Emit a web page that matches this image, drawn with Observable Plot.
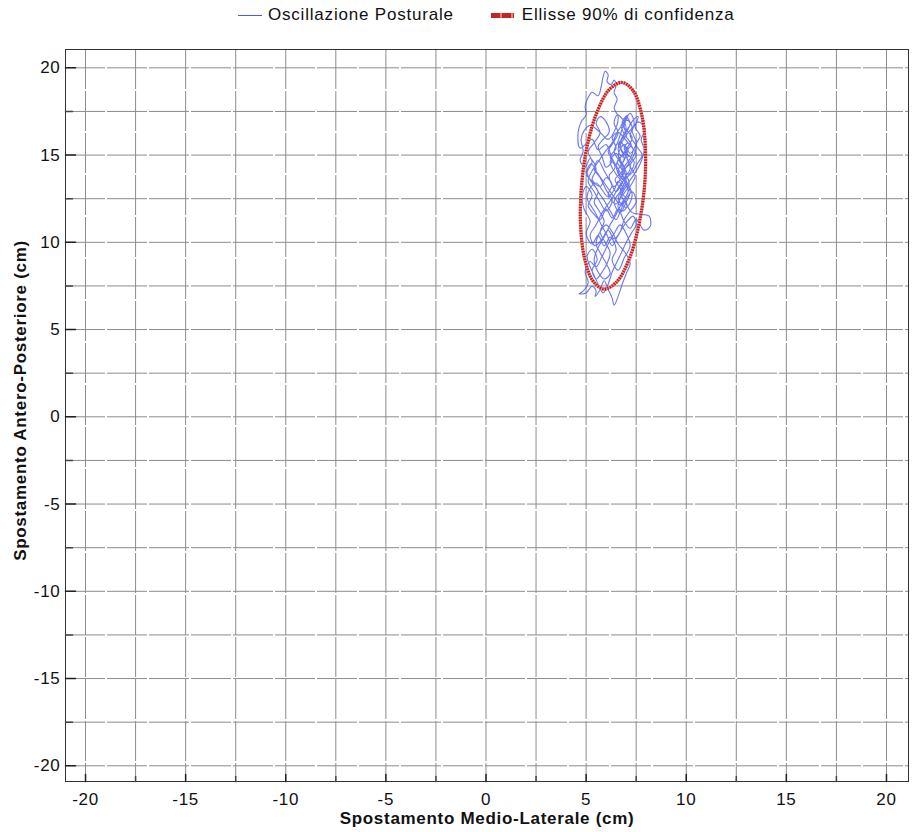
<!DOCTYPE html>
<html><head><meta charset="utf-8">
<script src="https://cdn.jsdelivr.net/npm/d3@7"></script>
<script src="https://cdn.jsdelivr.net/npm/@observablehq/plot@0.6"></script>
<style>
body{margin:0;background:#fff;font-family:"Liberation Sans",Arial,sans-serif;}
#legend{height:30px;display:flex;align-items:center;padding-left:238px;font-size:17px;letter-spacing:0.8px;color:#111;box-sizing:border-box;}
.item{display:flex;align-items:center;}
.sw1{width:24px;height:0;border-top:1px solid #4a5ae8;margin-right:6px;}
.sw2{width:23px;height:5px;background:repeating-linear-gradient(90deg,#c42424 0 9px,#e08080 9px 11px);margin-right:8px;margin-left:37px;}
</style></head><body>
<div id="legend"><span class="item"><span class="sw1"></span>Oscillazione Posturale</span><span class="item"><span class="sw2"></span>Ellisse 90% di confidenza</span></div>
<div id="chart"></div>
<script>
// Sway path (cm)
const swayX = [6.6,6.9,6.7,7.0,6.8,7.1,6.9,7.3,7.0,7.4,7.1,6.8,6.5,6.2,6.5,6.9,6.6,7.0,7.3,7.0,6.7,
 6.3,6.0,5.6,5.3,4.7,4.6,4.75,5.0,4.95,5.1,5.3,5.6,5.75,5.85,5.95,6.1,6.05,6.25,6.4,6.5,6.4,6.55,6.4,6.6,6.5,
 6.1,5.7,5.2,4.9,4.75,4.85,4.7,4.95,5.2,5.5,5.3,5.7,6.0,6.3,6.1,6.5,6.8,7.1,7.4,7.7,7.9,7.75,7.95,7.6,7.3,7.5,7.2,6.9,6.6,6.8,
 7.0,6.7,7.0,7.3,7.8,8.15,8.2,7.9,7.5,7.2,6.9,6.6,6.3,6.0,5.7,5.4,5.1,5.3,5.0,4.8,4.9,5.2,5.0,5.3,5.6,5.9,6.2,6.5,6.3,6.6,6.9,7.2,7.0,6.7,
 6.4,6.1,5.8,5.5,5.2,4.95,5.1,4.85,4.65,5.0,5.3,5.5,5.45,5.7,5.9,6.1,6.3,6.4,6.6,6.8,7.0,7.2,6.95,6.6,6.3,6.0,5.7,5.5,5.7,6.0,6.2,5.9,5.6,
 5.4,5.6,5.9,6.2,6.5,6.8,7.1,6.9,7.2,7.0,6.7,6.9,7.2,7.0,6.8,6.6,6.4,6.7,7.0,6.8,6.5,6.2,5.9,5.6,5.4,5.7,6.0,6.3,6.0,5.7,5.4,5.1,5.3,5.6,5.95,6.3,6.6,6.9,7.2,7.4,7.2,7.5,7.3,7.0,6.75,6.5,6.8,7.1,6.9,6.6,6.9,7.2,7.0,6.7,6.4,6.7,
 7.0,6.8,7.15,6.95,7.25,7.0,7.3,7.05,6.75,6.9,6.6,6.85,6.55,6.8,6.45,6.7,6.95,7.2,7.45,7.2,7.5,7.25,6.95,6.6,6.3,6.5,6.2,6.45,6.15,6.4,6.7,6.95,6.7,7.0,6.75,7.05,7.35,7.6,7.45,7.7,7.5,7.8,7.55,7.3,7.0,6.7,
 6.4,6.1,5.8,5.5,5.2,5.45,5.8,6.1,6.4,6.7,6.9,7.2,7.5,7.3,7.0,6.75,6.5,6.2,5.9,5.6,5.3,5.0,5.25,5.55,5.85,6.15,6.45,6.75,
 6.9,7.05,6.85,6.6,6.7,6.95,7.15,7.0,6.8,6.9,7.2,7.35,7.1,6.9,7.1,6.8,6.6,6.75,7.0,6.85,6.55,6.4,6.6,6.35,6.1,6.3,6.0,5.8,5.6,5.85,6.15,6.0,5.7,5.5,5.7,5.4,5.1,5.3,5.05,5.3,5.6,5.4,5.65,5.9,5.7,5.95,6.2,6.05,5.8,5.5,5.3,5.55,5.3,5.05,5.2,5.4,5.6,5.85,6.1,6.3,6.55,6.8,7.05,7.3,7.5,7.35,7.05,6.8,6.55,6.3,6.05,5.8,5.55,5.3,5.05,5.2,5.5,5.8,6.1,6.4,6.6,6.85];
const swayY = [14.2,14.8,15.5,16.2,16.9,17.3,16.6,16.0,15.2,14.6,13.9,14.5,15.1,14.6,13.9,13.2,12.5,12.0,12.7,13.5,14.0,
 14.8,15.6,15.3,15.9,15.4,16.3,16.9,17.3,17.8,18.3,18.6,18.4,18.9,19.5,19.8,19.6,19.2,19.05,19.3,19.0,18.6,18.2,17.7,17.2,16.6,
 15.9,16.3,16.7,16.4,15.9,15.2,14.7,14.3,14.8,14.2,13.6,13.2,13.7,13.3,12.7,12.2,12.8,13.4,13.9,14.5,15.3,15.9,16.5,16.9,16.4,15.7,15.1,15.6,15.0,14.3,
 13.6,12.9,12.2,11.7,11.6,11.5,10.9,10.7,11.3,10.8,11.2,11.9,11.4,11.9,11.3,11.6,12.1,12.7,13.2,12.6,11.9,11.2,10.5,9.9,10.4,9.8,10.3,9.6,9.0,8.4,9.1,9.8,10.5,11.0,
 10.5,9.9,9.2,8.6,8.9,8.3,7.7,7.2,7.05,7.1,7.5,7.2,6.9,7.3,7.8,7.3,6.8,6.4,6.9,7.6,8.2,8.8,9.4,9.9,10.6,11.0,10.6,9.9,9.4,8.8,8.2,7.9,8.3,
 9.0,9.7,10.3,11.0,11.6,12.3,12.9,13.6,14.2,14.9,15.5,16.2,16.8,17.2,16.5,15.8,15.2,14.6,14.0,13.4,12.9,13.5,14.1,14.7,14.2,13.7,13.0,12.4,11.8,12.3,12.9,13.5,14.1,14.6,15.2,15.7,16.4,16.9,17.4,16.8,16.1,15.5,14.8,14.3,13.7,14.4,15.0,15.4,14.7,14.1,13.5,12.9,12.3,11.7,12.3,12.9,
 13.4,14.0,14.5,15.1,15.6,16.1,16.6,17.0,16.7,16.1,15.6,15.1,14.6,14.1,13.6,13.1,12.6,13.2,13.8,14.4,15.0,15.5,15.9,16.3,16.0,15.4,14.9,14.3,13.8,13.2,13.6,14.2,14.8,15.3,15.8,16.4,17.0,17.2,16.6,16.1,15.6,15.0,14.5,14.0,13.7,13.3,
 12.7,12.2,11.7,11.0,10.4,9.8,10.2,10.7,10.2,10.6,11.3,11.8,12.3,12.9,12.5,11.9,11.3,11.8,12.4,12.9,13.5,13.9,14.5,14.0,13.5,13.0,12.5,12.1,
 12.4,12.1,11.8,12.0,12.5,12.9,13.3,13.8,13.6,14.3,14.8,15.3,15.7,15.4,14.9,14.9,15.3,15.9,16.5,17.0,17.3,16.8,16.3,15.7,15.2,14.7,14.3,14.9,15.5,15.9,16.3,16.9,17.2,16.8,16.3,15.7,15.2,14.6,14.0,13.4,12.9,12.3,11.8,11.2,10.6,10.0,9.4,8.8,8.3,7.9,8.4,9.0,9.6,9.2,8.6,8.1,7.6,7.1,7.6,8.3,8.9,9.5,10.1,10.6,11.0,11.5,11.2,10.8,10.3,9.8,10.4,10.9,11.5,12.0,12.5,13.1,13.4,13.0,12.6,13.0,13.5,13.1];
// 90% confidence ellipse outline (cm)
const ellipseX = [6.80,7.36,7.77,7.96,7.91,7.61,7.13,6.52,5.88,5.32,4.91,4.72,4.78,5.07,5.56,6.16];
const ellipseY = [19.16,18.67,17.34,15.40,13.12,10.86,8.97,7.72,7.32,7.82,9.14,11.09,13.36,15.62,17.51,18.76];
// axes
const majorTicks = [-20,-15,-10,-5,0,5,10,15,20];
const minorTicks = [-17.5,-12.5,-7.5,-2.5,2.5,7.5,12.5,17.5];
const gridLines = [-20,-17.5,-15,-12.5,-10,-7.5,-5,-2.5,0,2.5,5,7.5,10,12.5,15,17.5,20];
const xDomain = [-21.0, 21.1];
const yDomain = [-20.9, 21.05];
const xTitle = "Spostamento Medio-Laterale (cm)";
const yTitle = "Spostamento Antero-Posteriore (cm)";

const sway = swayX.map((x, i) => ({x, y: swayY[i]}));
const ellipse = ellipseX.map((x, i) => ({x, y: ellipseY[i]}));
const tickShape = {draw(context, l) { context.moveTo(0, 0); context.lineTo(0, -l); }};
const fmt = d => String(d);

const plot = Plot.plot({
  width: 916, height: 802,
  marginTop: 19, marginRight: 8, marginBottom: 51, marginLeft: 65,
  style: {fontFamily: '"Liberation Sans", Arial, sans-serif', color: "#111", background: "#fff"},
  x: {domain: xDomain},
  y: {domain: yDomain},
  marks: [
    Plot.gridX(gridLines, {stroke: "#8c8c8c", strokeOpacity: 1, strokeDasharray: "40,2"}),
    Plot.gridY(gridLines, {stroke: "#8c8c8c", strokeOpacity: 1, strokeDasharray: "40,2"}),
    Plot.line(sway, {x: "x", y: "y", stroke: "#4455f0", strokeOpacity: 0.8, strokeWidth: 1.1, curve: "catmull-rom"}),
    Plot.line(ellipse, {x: "x", y: "y", stroke: "#e89090", strokeWidth: 3.2, curve: "catmull-rom-closed"}),
    Plot.line(ellipse, {x: "x", y: "y", stroke: "#c01818", strokeWidth: 3.2, strokeDasharray: "1.3,1.3", strokeLinecap: "butt", curve: "catmull-rom-closed"}),
    Plot.frame({stroke: "#333"}),
    Plot.vector(majorTicks, {x: xDomain[0], y: d => d, length: 10, rotate: 90, anchor: "start", shape: tickShape, stroke: "#222"}),
    Plot.vector(minorTicks, {x: xDomain[0], y: d => d, length: 7, rotate: 90, anchor: "start", shape: tickShape, stroke: "#444"}),
    Plot.vector(majorTicks, {x: d => d, y: yDomain[0], length: 7, rotate: 0, anchor: "start", shape: tickShape, stroke: "#222"}),
    Plot.vector(minorTicks, {x: d => d, y: yDomain[0], length: 5, rotate: 0, anchor: "start", shape: tickShape, stroke: "#444"}),
    Plot.axisX(majorTicks, {tickSize: 0, tickPadding: 11, fontSize: 17, tickFormat: fmt, label: null}),
    Plot.axisY(majorTicks, {tickSize: 0, tickPadding: 5, fontSize: 17, tickFormat: fmt, label: null}),
    Plot.text([xTitle], {frameAnchor: "bottom", dy: 42, fontSize: 17, fontWeight: "bold", text: d => d}),
    Plot.text([yTitle], {frameAnchor: "left", dx: -45, dy: -15, rotate: -90, textAnchor: "middle", fontSize: 17, fontWeight: "bold", text: d => d})
  ]
});
d3.select(plot).selectAll("text").style("letter-spacing", "0.7px");
document.getElementById("chart").appendChild(plot);
</script>
</body></html>
